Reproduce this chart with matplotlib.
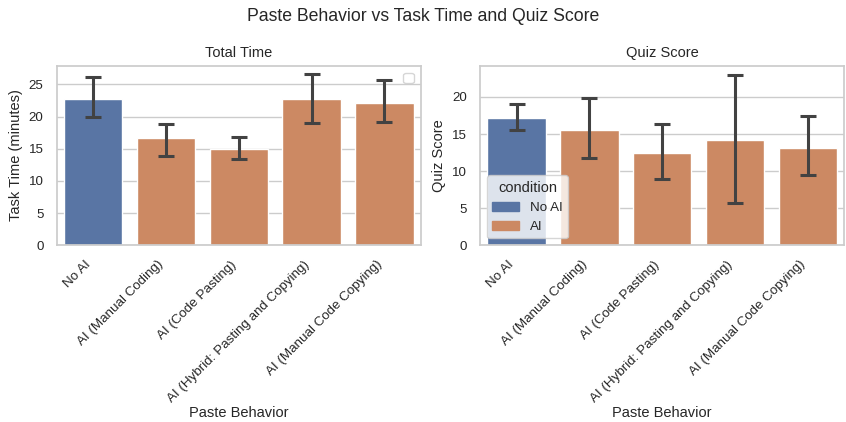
import numpy as np
import matplotlib
matplotlib.use('Agg')
import matplotlib.pyplot as plt
import seaborn as sns
from matplotlib.patches import Patch

sns.set_theme(style='whitegrid', font_scale=0.88)
plt.rcParams['font.family'] = ['Liberation Sans', 'DejaVu Sans']

behaviors = ['No AI', 'AI (Manual Coding)', 'AI (Code Pasting)',
             'AI (Hybrid: Pasting and Copying)', 'AI (Manual Code Copying)']
conditions = ['No AI', 'AI', 'AI', 'AI', 'AI']

time_mean = [22.8, 16.6, 14.9, 22.7, 22.1]
time_low = [20.0, 13.8, 13.4, 19.0, 19.2]
time_high = [26.1, 18.8, 16.8, 26.6, 25.7]

quiz_mean = [17.2, 15.6, 12.4, 14.2, 13.1]
quiz_low = [15.5, 11.7, 8.9, 5.7, 9.5]
quiz_high = [19.1, 19.8, 16.4, 23.0, 17.4]

pal = sns.color_palette('deep')
cmap = {'No AI': sns.desaturate(pal[0], 0.75), 'AI': sns.desaturate(pal[1], 0.75)}

fig, axes = plt.subplots(1, 2, figsize=(8.46, 4.22), dpi=100)


def draw(ax, mean, low, high, title, ylabel):
    x = np.arange(len(behaviors))
    ax.bar(x, mean, width=0.8, color=[cmap[c] for c in conditions])
    m = np.array(mean)
    yerr = [m - np.array(low), np.array(high) - m]
    ax.errorbar(x, m, yerr=yerr, fmt='none', ecolor='.26', elinewidth=2.2,
                capsize=5.5, capthick=2.2)
    ax.set_xlim(-0.5, len(behaviors) - 0.5)
    ax.set_xticks(x)
    ax.set_xticklabels(behaviors, rotation=45, ha='right')
    ax.grid(False, axis='x')
    ax.set_title(title)
    ax.set_xlabel('Paste Behavior', labelpad=1)
    ax.set_ylabel(ylabel)


draw(axes[0], time_mean, time_low, time_high, 'Total Time', 'Task Time (minutes)')
draw(axes[1], quiz_mean, quiz_low, quiz_high, 'Quiz Score', 'Quiz Score')
axes[0].set_ylim(0, 27.9)
axes[1].set_ylim(0, 24.2)

axes[0].legend(handles=[], loc='upper right')
handles = [Patch(color=cmap['No AI'], label='No AI'), Patch(color=cmap['AI'], label='AI')]
axes[1].legend(handles=handles, title='condition', loc='lower left')

fig.suptitle('Paste Behavior vs Task Time and Quiz Score')
fig.subplots_adjust(left=0.067, right=0.998, top=0.844, bottom=0.419, wspace=0.163)
plt.savefig('out.png')
